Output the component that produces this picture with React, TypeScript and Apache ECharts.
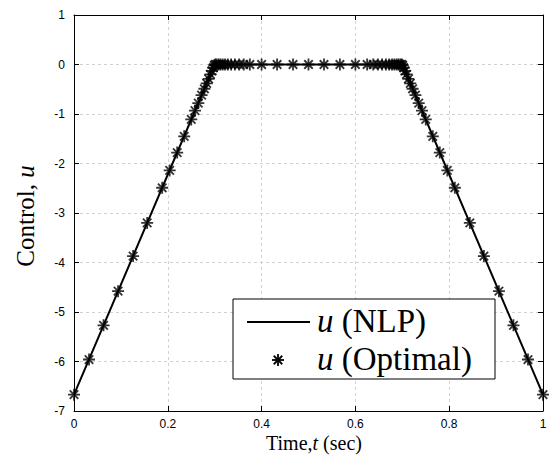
import React, { useEffect, useRef } from "react";
import * as echarts from "echarts";

// NLP solution (line knots)
const nlpT = [0, 0.3, 0.7, 1];
const nlpU = [-6.67, 0, 0, -6.67];

// Optimal solution samples (markers)
const optT = [
  0, 0.032, 0.063, 0.094, 0.126, 0.156, 0.188, 0.204, 0.22, 0.235, 0.25, 0.258, 0.265, 0.272, 0.278, 0.283, 0.287, 0.291, 0.294, 0.297, 0.299,
  0.301, 0.304, 0.308, 0.312, 0.317, 0.322, 0.328, 0.335, 0.343, 0.352, 0.362, 0.375, 0.4, 0.433, 0.467, 0.5,
  0.533, 0.567, 0.6, 0.625, 0.638, 0.648, 0.657, 0.665, 0.672, 0.678, 0.683, 0.688, 0.692, 0.696, 0.699,
  0.701, 0.703, 0.706, 0.709, 0.713, 0.717, 0.722, 0.728, 0.735, 0.742, 0.75, 0.765, 0.78, 0.796, 0.812, 0.844, 0.874, 0.906, 0.937, 0.968, 1.0,
];
const optU = [
  -6.67, -5.96, -5.27, -4.58, -3.87, -3.2, -2.49, -2.14, -1.78, -1.45, -1.11, -0.93, -0.78, -0.62, -0.49, -0.38, -0.29, -0.2, -0.13, -0.07, -0.02,
  0, 0, 0, 0, 0, 0, 0, 0, 0, 0, 0, 0, 0, 0, 0, 0,
  0, 0, 0, 0, 0, 0, 0, 0, 0, 0, 0, 0, 0, 0, 0,
  -0.02, -0.07, -0.13, -0.2, -0.29, -0.38, -0.49, -0.62, -0.78, -0.93, -1.11, -1.45, -1.78, -2.14, -2.49, -3.2, -3.87, -4.58, -5.27, -5.96, -6.67,
];

const xTicks = { min: 0, max: 1, interval: 0.2 };
const yTicks = { min: -7, max: 1, interval: 1 };

const STAR = "path://M0,-10L0,10M-10,0L10,0M-7.07,-7.07L7.07,7.07M-7.07,7.07L7.07,-7.07";
const SERIF = "'Liberation Serif', 'Times New Roman', serif";
const SANS = "'Liberation Sans', Arial, sans-serif";

function starLines(cx: number, cy: number, r: number) {
  const d = r * 0.7071;
  const segs = [
    [0, -r, 0, r],
    [-r, 0, r, 0],
    [-d, -d, d, d],
    [-d, d, d, -d],
  ];
  return segs.map((s) => ({
    type: "line",
    shape: { x1: cx + s[0], y1: cy + s[1], x2: cx + s[2], y2: cy + s[3] },
    style: { stroke: "#000", lineWidth: 1.8 },
    z: 101,
  }));
}

export default function App() {
  const ref = useRef<HTMLDivElement>(null);
  useEffect(() => {
    if (!ref.current) return;
    const chart = echarts.init(ref.current, null, { renderer: "svg" });
    const axisCommon = {
      type: "value",
      axisLine: { show: true, onZero: false, lineStyle: { color: "#000", width: 1 } },
      axisTick: { show: true, inside: true, length: 5, lineStyle: { color: "#000" } },
    };
    const grid = { left: 74, right: 9, top: 15, bottom: 50 };
    chart.setOption({
      animation: false,
      backgroundColor: "#fff",
      grid,
      xAxis: [
        {
          ...axisCommon,
          position: "bottom",
          ...xTicks,
          axisLabel: { color: "#000", fontFamily: SANS, fontSize: 12, margin: 7 },
          splitLine: { show: true, lineStyle: { color: "#d2d2d2", type: [3, 3], width: 1 } },
        },
        {
          ...axisCommon,
          position: "top",
          ...xTicks,
          axisLabel: { show: false },
          splitLine: { show: false },
        },
      ],
      yAxis: [
        {
          ...axisCommon,
          position: "left",
          ...yTicks,
          axisLabel: { color: "#000", fontFamily: SANS, fontSize: 12, margin: 9 },
          splitLine: { show: true, lineStyle: { color: "#d2d2d2", type: [3, 3], width: 1 } },
        },
        {
          ...axisCommon,
          position: "right",
          ...yTicks,
          axisLabel: { show: false },
          splitLine: { show: false },
        },
      ],
      series: [
        {
          name: "u (NLP)",
          type: "line",
          data: nlpT.map((t, i) => [t, nlpU[i]]),
          symbol: "none",
          lineStyle: { color: "#000", width: 2 },
          z: 2,
        },
        {
          name: "u (Optimal)",
          type: "scatter",
          data: optT.map((t, i) => [t, optU[i]]),
          symbol: STAR,
          symbolSize: 12,
          itemStyle: { color: "transparent", borderColor: "#000", borderWidth: 1.8 },
          z: 3,
        },
      ],
      graphic: [
        {
          type: "text",
          x: 314,
          y: 443,
          style: {
            text: "Time,{i|t} (sec)",
            fontFamily: SERIF,
            fontSize: 20,
            lineHeight: 18,
            fill: "#000",
            align: "center",
            verticalAlign: "middle",
            rich: { i: { fontStyle: "italic", fontFamily: SERIF, fontSize: 20, lineHeight: 18 } },
          },
        },
        {
          type: "text",
          x: 25,
          y: 216,
          rotation: Math.PI / 2,
          style: {
            text: "Control, {i|u}",
            fontFamily: SERIF,
            fontSize: 25,
            fill: "#000",
            align: "center",
            verticalAlign: "middle",
            rich: { i: { fontStyle: "italic", fontFamily: SERIF, fontSize: 25 } },
          },
        },
        {
          type: "rect",
          shape: { x: 233, y: 299, width: 262, height: 80 },
          style: { fill: "#fff", stroke: "#000", lineWidth: 1 },
          z: 100,
        },
        {
          type: "line",
          shape: { x1: 247, y1: 322, x2: 310, y2: 322 },
          style: { stroke: "#000", lineWidth: 2 },
          z: 101,
        },
        ...starLines(278, 360, 6),
        {
          type: "text",
          x: 317,
          y: 321,
          z: 101,
          style: {
            text: "{i|u} (NLP)",
            fontFamily: SERIF,
            fontSize: 33,
            lineHeight: 32,
            fill: "#000",
            verticalAlign: "middle",
            rich: { i: { fontStyle: "italic", fontFamily: SERIF, fontSize: 33, lineHeight: 32 } },
          },
        },
        {
          type: "text",
          x: 317,
          y: 359,
          z: 101,
          style: {
            text: "{i|u} (Optimal)",
            fontFamily: SERIF,
            fontSize: 33,
            lineHeight: 32,
            fill: "#000",
            verticalAlign: "middle",
            rich: { i: { fontStyle: "italic", fontFamily: SERIF, fontSize: 33, lineHeight: 32 } },
          },
        },
      ],
    });
    return () => chart.dispose();
  }, []);
  return (
    <div
      ref={ref}
      style={{ position: "fixed", left: 0, top: 0, width: 552, height: 461 }}
    />
  );
}
